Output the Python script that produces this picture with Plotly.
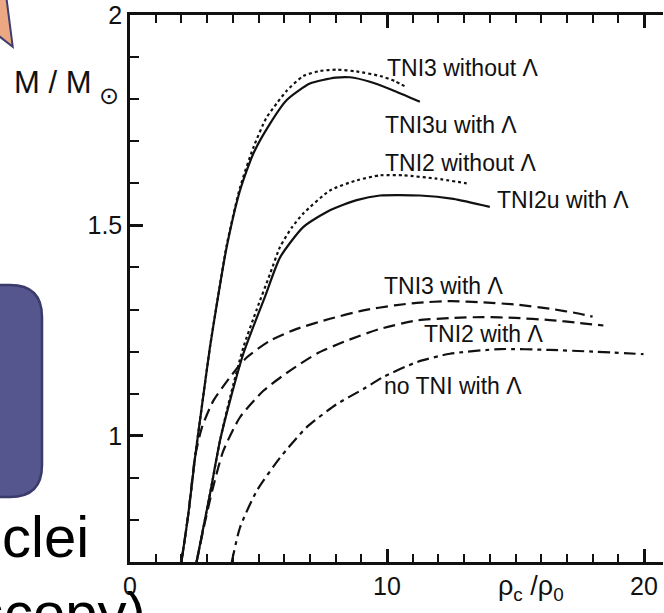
import plotly.graph_objects as go

# ---- data ----
tni3u_x = [2.0, 2.27, 2.53, 2.79, 3.11, 3.40, 3.76, 4.28, 4.80, 5.45, 6.10, 7.0, 8.0, 8.56, 9.3, 10.2, 11.28]
tni3u_y = [0.70, 0.814, 0.948, 1.067, 1.21, 1.321, 1.448, 1.583, 1.671, 1.742, 1.798, 1.837, 1.851, 1.852, 1.842, 1.822, 1.794]

tni3_x = [2.0, 2.27, 2.53, 2.79, 3.11, 3.40, 3.76, 4.28, 4.80, 5.3, 5.71, 6.1, 6.74, 7.4, 8.04, 8.8, 9.73, 10.3, 10.77]
tni3_y = [0.70, 0.814, 0.948, 1.067, 1.21, 1.321, 1.452, 1.59, 1.685, 1.755, 1.79, 1.82, 1.855, 1.867, 1.870, 1.866, 1.855, 1.843, 1.828]

tni2u_x = [2.59, 3.11, 3.50, 3.89, 4.41, 4.93, 5.25, 5.84, 6.74, 7.78, 8.82, 9.73, 11.28, 12.58, 14.0]
tni2u_y = [0.70, 0.861, 0.988, 1.083, 1.195, 1.28, 1.33, 1.424, 1.496, 1.536, 1.560, 1.571, 1.571, 1.563, 1.544]

tni2_x = [2.59, 3.11, 3.50, 3.89, 4.41, 4.93, 5.45, 5.84, 6.3, 6.74, 7.78, 8.82, 9.73, 10.63, 11.93, 13.1]
tni2_y = [0.70, 0.861, 0.988, 1.09, 1.21, 1.30, 1.385, 1.449, 1.495, 1.528, 1.583, 1.607, 1.619, 1.619, 1.611, 1.600]

tni3L_x = [2.0, 2.27, 2.53, 2.8, 3.24, 3.89, 4.54, 5.45, 6.49, 7.78, 9.08, 10.3, 11.16, 12.5, 13.75, 15.0, 16.34, 17.5, 18.0]
tni3L_y = [0.70, 0.814, 0.95, 1.02, 1.083, 1.139, 1.186, 1.226, 1.254, 1.278, 1.298, 1.31, 1.316, 1.32, 1.317, 1.312, 1.302, 1.29, 1.283]

tni2L_x = [2.59, 2.9, 3.2, 3.63, 4.28, 5.19, 6.23, 7.26, 8.43, 9.73, 11.16, 12.5, 13.75, 15.0, 16.34, 17.5, 18.42]
tni2L_y = [0.70, 0.79, 0.87, 0.964, 1.044, 1.107, 1.155, 1.195, 1.226, 1.254, 1.274, 1.28, 1.282, 1.28, 1.275, 1.268, 1.262]

noTNI_x = [3.96, 4.28, 4.93, 5.84, 6.87, 8.04, 9.08, 9.86, 11.16, 12.45, 14.4, 16.34, 18.0, 19.98]
noTNI_y = [0.70, 0.782, 0.869, 0.948, 1.02, 1.075, 1.111, 1.14, 1.175, 1.195, 1.206, 1.204, 1.2, 1.194]

x_tick_step = 10
y_tick_step = 0.5

# ---- figure geometry ----
W, H = 664, 613
L, R, T, B = 130, 663, 15, 562
def px(x):
    return (x - L) / (R - L)
def py(y):
    return (B - y) / (B - T)

INK = "#111111"
FONT = "Liberation Sans, Arial, sans-serif"

fig = go.Figure()
series = [
    (tni3u_x, tni3u_y, "solid"),
    (tni3_x, tni3_y, "3px,3px"),
    (tni2u_x, tni2u_y, "solid"),
    (tni2_x, tni2_y, "3px,3px"),
    (tni3L_x, tni3L_y, "12px,6px"),
    (tni2L_x, tni2L_y, "12px,6px"),
    (noTNI_x, noTNI_y, "12px,5px,4px,5px"),
]
for xs, ys, dash in series:
    fig.add_trace(go.Scatter(x=xs, y=ys, mode="lines",
                             line=dict(color=INK, width=2.2, dash=dash, shape="spline", smoothing=0.6),
                             showlegend=False, hoverinfo="skip"))

labels = [
    ("TNI3 without Λ", 9.92, 1.874),
    ("TNI3u with Λ", 9.84, 1.738),
    ("TNI2 without Λ", 9.84, 1.648),
    ("TNI2u with Λ", 14.2, 1.560),
    ("TNI3 with Λ", 9.81, 1.357),
    ("TNI2 with Λ", 11.36, 1.243),
    ("no TNI with Λ", 9.81, 1.119),
]
annotations = []
for txt, x, y in labels:
    annotations.append(dict(text=txt, x=x, y=y, xref="x", yref="y", xanchor="left", yanchor="middle",
                            showarrow=False, font=dict(family=FONT, size=23, color=INK)))

annotations += [
    dict(text="M / M", x=px(12), y=py(82), xref="paper", yref="paper", xanchor="left", yanchor="middle",
         showarrow=False, font=dict(family=FONT, size=31, color=INK)),
    dict(text="⊙", x=px(109), y=py(96), xref="paper", yref="paper", xanchor="center", yanchor="middle",
         showarrow=False, font=dict(family="DejaVu Sans", size=24, color=INK)),
    dict(text="ρ<sub>c</sub> /ρ<sub>0</sub>", x=px(531), y=py(588), xref="paper", yref="paper", xanchor="center", yanchor="middle",
         showarrow=False, font=dict(family=FONT, size=27, color=INK)),
    dict(text="clei", x=px(0), y=py(536), xref="paper", yref="paper", xanchor="left", yanchor="middle",
         showarrow=False, font=dict(family=FONT, size=58, color="#000000")),
    dict(text="scopy)", x=px(148), y=py(612), xref="paper", yref="paper", xanchor="right", yanchor="middle",
         showarrow=False, font=dict(family=FONT, size=58, color="#000000")),
]

def rrect(x0, y0, x1, y1, r):
    return (f"M {px(x0)},{py(y0+r)} L {px(x0)},{py(y1-r)} "
            f"Q {px(x0)},{py(y1)} {px(x0+r)},{py(y1)} L {px(x1-r)},{py(y1)} "
            f"Q {px(x1)},{py(y1)} {px(x1)},{py(y1-r)} L {px(x1)},{py(y0+r)} "
            f"Q {px(x1)},{py(y0)} {px(x1-r)},{py(y0)} L {px(x0+r)},{py(y0)} "
            f"Q {px(x0)},{py(y0)} {px(x0)},{py(y0+r)} Z")

shapes = [
    dict(type="path", xref="paper", yref="paper",
         path=f"M {px(-5)},{py(-5)} L {px(6)},{py(-5)} L {px(6.7)},{py(0)} L {px(12.7)},{py(46.7)} L {px(-5)},{py(33)} Z",
         fillcolor="#EBA883", line=dict(color="#3E3E70", width=2), layer="above"),
    dict(type="path", xref="paper", yref="paper", path=rrect(-60, 285, 42, 497, 32),
         fillcolor="#56568F", line=dict(color="#3B3B6B", width=2.5), layer="above"),
]

fig.update_layout(
    width=W, height=H, margin=dict(l=L, r=W - R, t=T, b=H - B),
    paper_bgcolor="white", plot_bgcolor="white",
    annotations=annotations, shapes=shapes,
    xaxis=dict(range=[0, (R - L) / 25.7], tickmode="linear", tick0=0, dtick=x_tick_step,
               ticks="inside", ticklen=13, tickwidth=2.5, tickcolor=INK,
               minor=dict(dtick=1, tick0=0, ticks="inside", ticklen=8, tickwidth=2, tickcolor=INK, showgrid=False),
               showline=True, linecolor=INK, linewidth=2.5, mirror="ticks", showgrid=False, zeroline=False,
               tickfont=dict(family=FONT, size=25, color=INK), layer="above traces"),
    yaxis=dict(range=[0.7, 2.0], tickmode="linear", tick0=0, dtick=y_tick_step,
               ticks="inside", ticklen=13, tickwidth=2.5, tickcolor=INK,
               minor=dict(dtick=0.1, tick0=0, ticks="inside", ticklen=9, tickwidth=2, tickcolor=INK, showgrid=False),
               showline=True, linecolor=INK, linewidth=2.5, showgrid=False, zeroline=False,
               tickfont=dict(family=FONT, size=25, color=INK), layer="above traces"),
)

fig.write_html("out.html")
